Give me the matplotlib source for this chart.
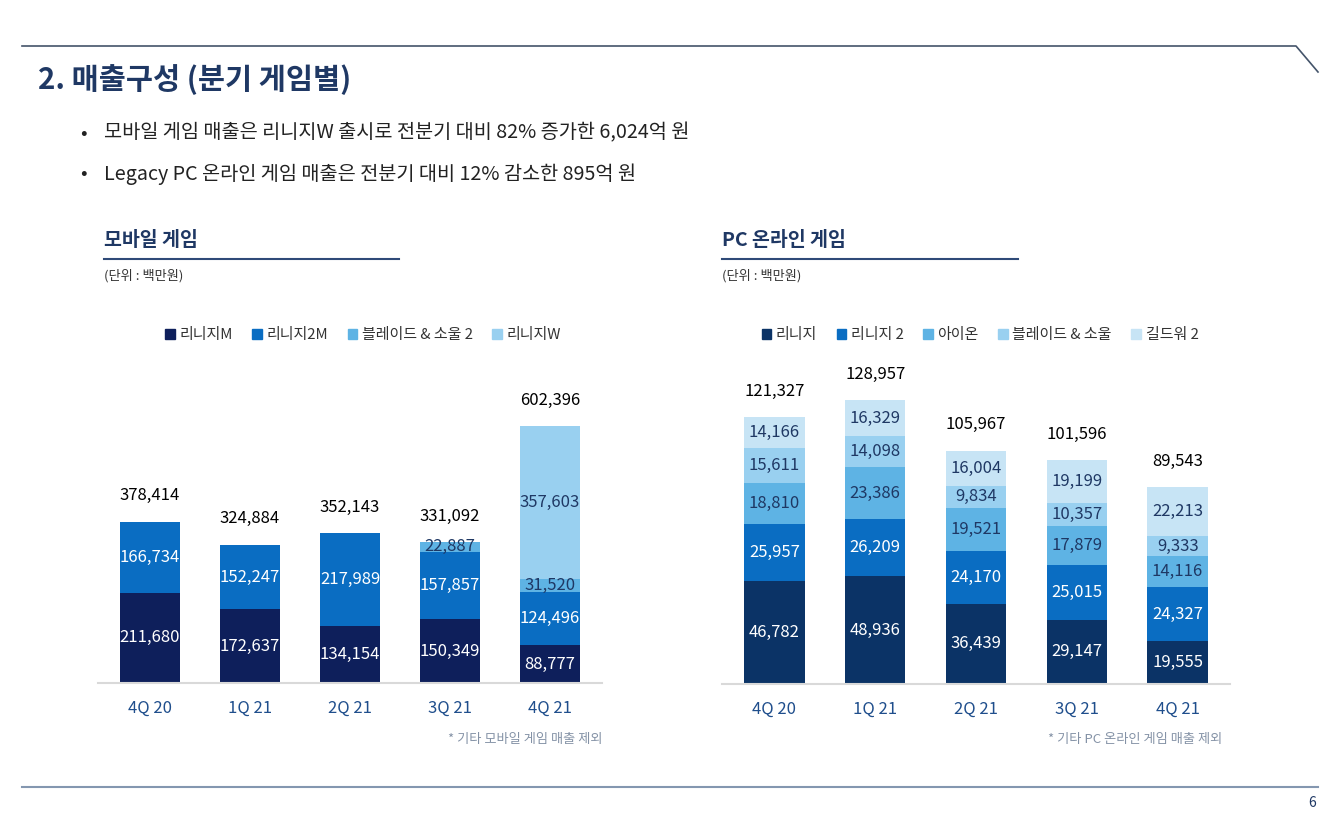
import numpy as np
import matplotlib
matplotlib.use('Agg')
import matplotlib.pyplot as plt
from matplotlib.lines import Line2D

plt.rcParams['font.family'] = ['Noto Sans CJK KR', 'DejaVu Sans']

W, H = 1332, 822

quarters = ['4Q 20', '1Q 21', '2Q 21', '3Q 21', '4Q 21']

# mobile games (unit: million KRW)
mobile_names = ['리니지M', '리니지2M', '블레이드 & 소울 2', '리니지W']
mob_lineage_m = [211680, 172637, 134154, 150349, 88777]
mob_lineage_2m = [166734, 152247, 217989, 157857, 124496]
mob_bns2 = [0, 0, 0, 22887, 31520]
mob_lineage_w = [0, 0, 0, 0, 357603]
mobile_totals = [378414, 324884, 352143, 331092, 602396]

# PC online games
pc_names = ['리니지', '리니지 2', '아이온', '블레이드 & 소울', '길드워 2']
pc_lineage = [46782, 48936, 36439, 29147, 19555]
pc_lineage2 = [25957, 26209, 24170, 25015, 24327]
pc_aion = [18810, 23386, 19521, 17879, 14116]
pc_bns = [15611, 14098, 9834, 10357, 9333]
pc_gw2 = [14166, 16329, 16004, 19199, 22213]
pc_totals = [121327, 128957, 105967, 101596, 89543]

navy = '#1f3864'
tick_col = '#1f4e8c'


def px_axes(fig, x0, x1, ytop, ybot):
    return fig.add_axes([x0 / W, (H - ybot) / H, (x1 - x0) / W, (ybot - ytop) / H])


def stacked(ax, series, colors, txtcols, totals, ymax):
    x = np.arange(len(quarters))
    bottom = np.zeros(len(quarters))
    for vals, c, tc in zip(series, colors, txtcols):
        vals = np.array(vals, dtype=float)
        ax.bar(x, vals, 0.6, bottom=bottom, color=c, edgecolor='none')
        for i, v in enumerate(vals):
            if v > 0:
                ax.text(x[i], bottom[i] + v / 2, '{:,}'.format(int(v)), ha='center', va='center',
                        color=tc, fontsize=12)
        bottom += vals
    for i, t in enumerate(totals):
        ax.annotate('{:,}'.format(t), (x[i], bottom[i]), xytext=(0, 26), textcoords='offset pixels',
                    ha='center', va='center', fontsize=12, color='black')
    ax.set_xlim(-0.52, 4.52)
    ax.set_ylim(0, ymax)
    ax.set_xticks(x)
    ax.set_xticklabels(quarters, fontsize=12, color=tick_col)
    ax.tick_params(axis='x', length=0, pad=12)
    ax.set_yticks([])
    for s in ['top', 'right', 'left']:
        ax.spines[s].set_visible(False)
    ax.spines['bottom'].set_color('#d9d9d9')
    ax.spines['bottom'].set_linewidth(1.5)
    ax.patch.set_alpha(0)


fig = plt.figure(figsize=(W / 100, H / 100), dpi=100)

# frame lines
fig.add_artist(Line2D([22 / W, 1296 / W, 1318 / W], [1 - 46 / H, 1 - 46 / H, 1 - 72 / H],
                      color='#44546a', lw=1.2))
fig.add_artist(Line2D([22 / W, 1318 / W], [1 - 787 / H, 1 - 787 / H], color='#8497b0', lw=1.5))
fig.text(1316 / W, 1 - 803 / H, '6', ha='right', va='center', fontsize=10, color=navy)

fig.text(38 / W, 1 - 80 / H, '2. 매출구성 (분기 게임별)', fontsize=21.2, fontweight='bold', color=navy,
         va='center', ha='left')
bullets = ['모바일 게임 매출은 리니지W 출시로 전분기 대비 82% 증가한 6,024억 원',
           'Legacy PC 온라인 게임 매출은 전분기 대비 12% 감소한 895억 원']
for yy, b in zip([133, 174], bullets):
    fig.text(80 / W, 1 - yy / H, '•', fontsize=14, color='#222222', va='center')
    fig.text(104 / W, 1 - yy / H, b, fontsize=14.2, color='#222222', va='center')

for x0, x1, title in [(104, 399, '모바일 게임'), (722, 1018, 'PC 온라인 게임')]:
    fig.text(x0 / W, 1 - 241 / H, title, fontsize=14, fontweight='bold', color=navy, va='center')
    fig.add_artist(Line2D([x0 / W, x1 / W], [1 - 259 / H, 1 - 259 / H], color='#2f4a78', lw=1.5))
    fig.text(x0 / W, 1 - 276 / H, '(단위 : 백만원)', fontsize=9.5, color='#333333', va='center')

# mobile chart
ax1 = px_axes(fig, 98, 602, 360, 683)
stacked(ax1, [mob_lineage_m, mob_lineage_2m, mob_bns2, mob_lineage_w],
        ['#0e1f5b', '#0a6dc2', '#5eb3e4', '#99d0f0'],
        ['white', 'white', navy, navy], mobile_totals, 323 / 4.26e-4)
h1 = [plt.Rectangle((0, 0), 1, 1, color=c) for c in ['#0e1f5b', '#0a6dc2', '#5eb3e4', '#99d0f0']]
fig.legend(h1, mobile_names, loc='center', bbox_to_anchor=(363 / W, 1 - 335 / H), ncol=4, frameon=False,
           fontsize=10.8, handlelength=0.65, handleheight=0.65, handletextpad=0.3, columnspacing=1.3,
           labelcolor='#333333')
fig.text(602 / W, 1 - 739 / H, '* 기타 모바일 게임 매출 제외', ha='right', va='center', fontsize=9.5,
         color='#8492a6')

# PC chart
pc_cols = ['#0b3366', '#0a6dc2', '#5eb3e4', '#99d0f0', '#c7e4f5']
ax2 = px_axes(fig, 722, 1230, 360, 684)
stacked(ax2, [pc_lineage, pc_lineage2, pc_aion, pc_bns, pc_gw2], pc_cols,
        ['white', 'white', navy, navy, navy], pc_totals, 324 / 2.2e-3)
h2 = [plt.Rectangle((0, 0), 1, 1, color=c) for c in pc_cols]
fig.legend(h2, pc_names, loc='center', bbox_to_anchor=(980 / W, 1 - 335 / H), ncol=5, frameon=False,
           fontsize=10.8, handlelength=0.65, handleheight=0.65, handletextpad=0.3, columnspacing=1.3,
           labelcolor='#333333')
fig.text(1222 / W, 1 - 739 / H, '* 기타 PC 온라인 게임 매출 제외', ha='right', va='center', fontsize=9.5,
         color='#8492a6')

fig.savefig('out.png', dpi=100)
